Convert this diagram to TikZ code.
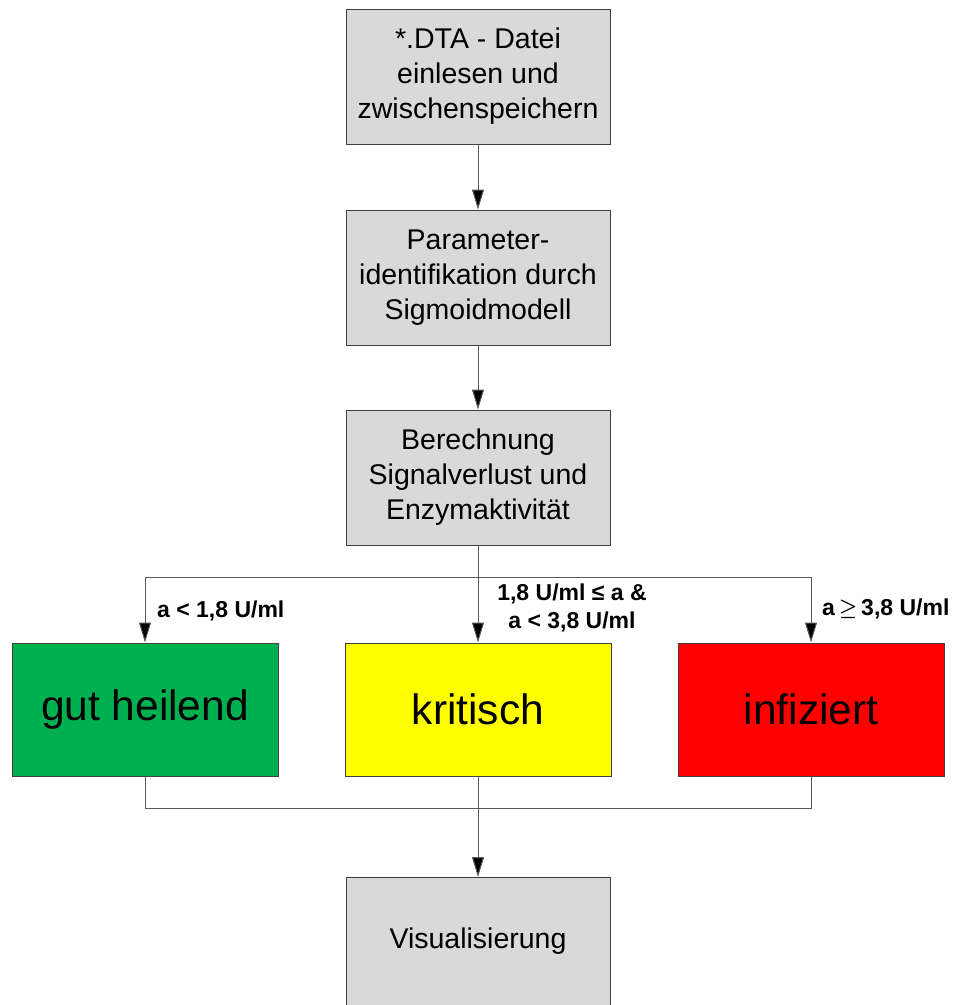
\documentclass[tikz,border=0pt]{standalone}
\usepackage{fontspec}
\setmainfont{Liberation Sans}
\usetikzlibrary{arrows.meta}
\definecolor{boxgray}{HTML}{D9D9D9}
\definecolor{boxline}{HTML}{404040}
\definecolor{conn}{HTML}{595959}
\definecolor{mygreen}{HTML}{00B050}
\definecolor{myyellow}{HTML}{FFFF00}
\definecolor{myred}{HTML}{FF0000}
\begin{document}
\begin{tikzpicture}[x=1pt,y=-1pt,
  graybox/.style={draw=boxline, line width=1pt, fill=boxgray, minimum width=264pt, minimum height=135pt, align=center, inner sep=0pt, font=\fontsize{28.5}{35}\selectfont},
  colbox/.style={draw=boxline, line width=1pt, minimum width=266pt, minimum height=133pt, inner sep=0pt, font=\fontsize{42.5}{48}\selectfont},
  conline/.style={draw=conn, line width=1pt},
  arr/.style={conline, -{Triangle[length=20pt,width=12pt,fill=black]}},
  lbl/.style={font=\bfseries\fontsize{23}{28}\selectfont, align=center, inner sep=0pt}
]
\useasboundingbox (0,0) rectangle (955,1005);
\node[graybox] (b1) at (478,76.5) {*.DTA - Datei\\einlesen und\\zwischenspeichern};
\node[graybox] (b2) at (478,277.5) {Parameter-\\identifikation durch\\Sigmoidmodell};
\node[graybox] (b3) at (478,477.5) {Berechnung\\Signalverlust und\\Enzymaktivität};
\node[colbox, fill=mygreen] (g) at (145,709.5) {gut heilend};
\node[colbox, fill=myyellow] (y) at (478,709.5) {kritisch};
\node[colbox, fill=myred] (r) at (811,709.5) {infiziert};
\path[draw=boxline, line width=1pt, fill=boxgray] (346,1010) -- (346,877) -- (610,877) -- (610,1010);
\node[inner sep=0pt, font=\fontsize{28.5}{35}\selectfont] (v) at (478,941) {Visualisierung};
\coordinate (vt) at (478,877);
\coordinate (split) at (478,577);
\coordinate (join) at (478,808);
\draw[arr] (b1) -- (b2);
\draw[arr] (b2) -- (b3);
\draw[conline] (b3.south) -- (split);
\draw[arr] (split) -| (g.north);
\draw[arr] (split) -- (y.north);
\draw[arr] (split) -| (r.north);
\draw[conline] (g.south) |- (join);
\draw[conline] (r.south) |- (join);
\draw[arr] (y.south) -- (vt);
\node[lbl, anchor=west] (l1) at (157,611) {a < 1,8 U/ml};
\node[lbl] (l2) at (572,608) {1,8 U/ml ≤ a \&\\a < 3,8 U/ml};
\node[lbl, anchor=west] (l3) at (822,609) {a\,\raisebox{1.5pt}{\fontsize{20}{22}\selectfont\boldmath$\geq$}\,3,8 U/ml};
\end{tikzpicture}
\end{document}
